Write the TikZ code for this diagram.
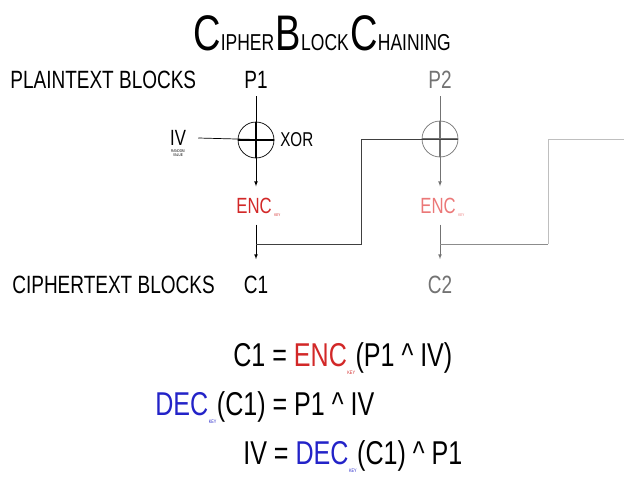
\documentclass[tikz,border=0pt]{standalone}
\usepackage{fontspec}
\setmainfont[FakeStretch=0.76]{Liberation Sans}
\usetikzlibrary{positioning}

\definecolor{encred}{RGB}{210,40,40}
\definecolor{encpink}{RGB}{235,120,120}
\definecolor{decblue}{RGB}{35,35,200}

\newcommand{\titlebig}[1]{{\fontsize{50}{50}\selectfont #1}}
\newcommand{\titlesmall}[1]{{\fontsize{23}{23}\selectfont #1}}
\newcommand{\keysub}[1]{\kern0.5pt\raisebox{-8pt}{\color{#1}\fontsize{5}{5}\selectfont KEY}\kern0.5pt}

\tikzset{
  lbl/.style={font=\fontsize{25}{25}\selectfont, inner xsep=2pt, inner ysep=8pt},
  blk/.style={lbl, inner ysep=16pt},
  enc/.style={font=\fontsize{22}{22}\selectfont, inner xsep=2pt, inner ysep=11pt},
  keylbl/.style={font=\fontsize{4}{4}\selectfont, inner sep=0pt},
  xorop/.style={circle, draw, minimum size=36pt, inner sep=0pt,
    path picture={\draw[line width=1.6pt]
      (path picture bounding box.north) -- (path picture bounding box.south)
      (path picture bounding box.west) -- (path picture bounding box.east);}},
  eqn/.style={font=\fontsize{33}{33}\selectfont, inner sep=0pt, anchor=base west}
}

\begin{document}
\begin{tikzpicture}[x=1pt, y=-1pt, >=latex, line width=0.7pt]
    \useasboundingbox (0,0) rectangle (638,479);

    % 1. Title
    \node[anchor=base west, inner sep=0pt] (title) at (193,50)
        {\titlebig{C}\titlesmall{IPHER}\,\titlebig{B}\titlesmall{LOCK}\,\titlebig{C}\titlesmall{HAINING}};

    % 2. Row labels
    \node[lbl, anchor=base west] (plainrow) at (8,88) {PLAINTEXT BLOCKS};
    \node[lbl, anchor=base west] (cipherrow) at (10,293) {CIPHERTEXT BLOCKS};

    % 3. First block
    \node[lbl, anchor=base] (p1) at (256,88) {P1};
    \node[xorop] (x1) at (256,140) {};
    \node[lbl, anchor=west, inner sep=0pt] (xorlbl) at (280,140) {\fontsize{20}{20}\selectfont XOR};
    \node[inner sep=0pt, font=\fontsize{22}{22}\selectfont] (iv) at (178,138) {IV};
    \node[keylbl, align=center, below=3pt of iv] (ivsub) {RANDOM\\VALUE};
    \node[enc, text=encred, anchor=base] (enc1) at (254,213) {ENC};
    \node[keylbl, text=encred, anchor=north west] (key1) at (enc1.base east) {KEY};
    \node[blk, anchor=base] (c1) at (256,293) {C1};

    \coordinate (ivout) at ([xshift=12pt]iv.east);
    \draw (ivout) -- (x1.east);
    \draw[->] (p1.south) -- (enc1.north -| p1.south);
    \draw[->] (enc1.south -| c1.north) -- (c1.north);

    % 4. Second block (greyed)
    \begin{scope}[black!55]
    \node[lbl, anchor=base] (p2) at (440,88) {P2};
    \node[xorop] (x2) at (440,139) {};
    \node[enc, text=encpink, anchor=base] (enc2) at (438,213) {ENC};
    \node[keylbl, text=encpink, anchor=north west] (key2) at (enc2.base east) {KEY};
    \node[blk, anchor=base] (c2) at (440,293) {C2};

    \draw[->] (p2.south) -- (enc2.north -| p2.south);
    \draw[->] (enc2.south -| c2.north) -- (c2.north);
    \end{scope}

    % 5. Chaining lines
    \coordinate (t1) at (256,244);
    \coordinate (k1) at (361,244);
    \draw[black!75] (t1) -- (k1) |- (x2.east);

    \coordinate (t2) at (440,244);
    \coordinate (k2) at (548,244);
    \coordinate (out2) at (624,139);
    \draw[black!45] (t2) -- (k2);
    \draw[black!25] (k2) |- (out2);

    % 6. Equations
    \node[eqn] (eq1) at (233,366)
        {C1 = \textcolor{encred}{ENC}\keysub{encred}(P1 \textasciicircum\ IV)};
    \node[eqn] (eq2) at (155,415)
        {\textcolor{decblue}{DEC}\keysub{decblue}(C1) = P1 \textasciicircum\ IV};
    \node[eqn] (eq3) at (243,464)
        {IV = \textcolor{decblue}{DEC}\keysub{decblue}(C1) \textasciicircum\ P1};
\end{tikzpicture}
\end{document}
